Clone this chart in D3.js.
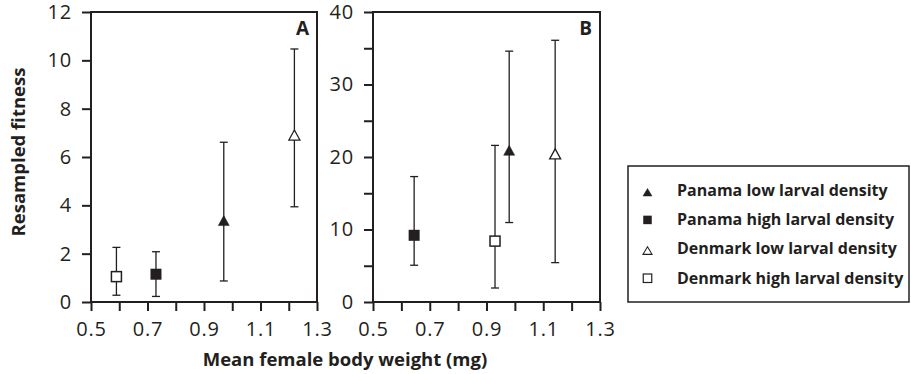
<!DOCTYPE html>
<html>
<head>
<meta charset="utf-8">
<script src="https://cdn.jsdelivr.net/npm/d3@7"></script>
<style>
  body { margin: 0; background: #fff; }
  svg { display: block; }
  text { font-family: "Open Sans", "Noto Sans", sans-serif; fill: #231f20; }
</style>
</head>
<body>
<svg id="chart" width="911" height="374"></svg>
<script>
// Groups (order used in the legend)
const groups = ["Panama low larval density", "Panama high larval density",
                "Denmark low larval density", "Denmark high larval density"];
const shapes = ["triangle", "square", "triangle", "square"];
const filled = [true, true, false, false];

// Panel A: mean female body weight (mg) vs resampled fitness, with interval
const weightA  = [0.97, 0.73, 1.22, 0.59];
const fitnessA = [3.3, 1.15, 6.84, 1.05];
const lowerA   = [0.87, 0.23, 3.94, 0.28];
const upperA   = [6.61, 2.08, 10.47, 2.26];

// Panel B
const weightB  = [0.98, 0.645, 1.142, 0.93];
const fitnessB = [20.7, 9.2, 20.2, 8.4];
const lowerB   = [10.96, 5.07, 5.43, 1.93];
const upperB   = [34.6, 17.3, 36.1, 21.6];

// Ticks
const xTicks = [0.5, 0.6, 0.7, 0.8, 0.9, 1.0, 1.1, 1.2, 1.3];
const xLabels = [0.5, 0.7, 0.9, 1.1, 1.3];
const yTicksA = [0, 2, 4, 6, 8, 10, 12];
const yLabelsA = [0, 2, 4, 6, 8, 10, 12];
const yTicksB = [0, 5, 10, 15, 20, 25, 30, 35, 40];
const yLabelsB = [0, 10, 20, 30, 40];

const ink = "#231f20";
const svg = d3.select("#chart");

function drawPanel(opts) {
  const { left, right, top, bottom, yMax, yTicks, yLabels, label,
          weight, fitness, lower, upper } = opts;
  const x = d3.scaleLinear().domain([0.5, 1.3]).range([left, right]);
  const y = d3.scaleLinear().domain([0, yMax]).range([bottom, top]);
  const g = svg.append("g");

  const fmtX = d => xLabels.some(v => Math.abs(v - d) < 1e-9) ? d3.format(".1f")(d) : "";
  const xAxis = g.append("g")
    .attr("transform", `translate(0,${bottom})`)
    .call(d3.axisBottom(x).tickValues(xTicks).tickFormat(fmtX).tickSize(9).tickPadding(11));
  const fmtY = d => yLabels.includes(d) ? String(d) : "";
  const yAxis = g.append("g")
    .attr("transform", `translate(${left},0)`)
    .call(d3.axisLeft(y).tickValues(yTicks).tickFormat(fmtY).tickSize(9).tickPadding(10));

  [xAxis, yAxis].forEach(a => {
    a.select(".domain").remove();
    a.selectAll(".tick line").attr("stroke", ink).attr("stroke-width", 2);
    a.selectAll(".tick text").style("font-size", "20px").style("letter-spacing", "0.8px").attr("fill", ink);
  });

  // Plot frame
  g.append("rect")
    .attr("x", left).attr("y", top)
    .attr("width", right - left).attr("height", bottom - top)
    .attr("fill", "none").attr("stroke", ink).attr("stroke-width", 2);

  g.append("text")
    .attr("x", right - 8).attr("y", top + 23)
    .attr("text-anchor", "end")
    .style("font-size", "19px").style("font-weight", "bold")
    .text(label);

  const idx = d3.range(groups.length);
  const cap = 4;
  // Error bars
  const eb = g.selectAll(".err").data(idx).join("g")
    .attr("stroke", ink).attr("stroke-width", 1.3);
  eb.append("line")
    .attr("x1", i => x(weight[i])).attr("x2", i => x(weight[i]))
    .attr("y1", i => y(lower[i])).attr("y2", i => y(upper[i]));
  eb.append("line")
    .attr("x1", i => x(weight[i]) - cap).attr("x2", i => x(weight[i]) + cap)
    .attr("y1", i => y(upper[i])).attr("y2", i => y(upper[i]));
  eb.append("line")
    .attr("x1", i => x(weight[i]) - cap).attr("x2", i => x(weight[i]) + cap)
    .attr("y1", i => y(lower[i])).attr("y2", i => y(lower[i]));

  // Markers
  idx.forEach(i => drawMarker(g, x(weight[i]), y(fitness[i]), i));
}

function drawMarker(g, cx, cy, i) {
  const fill = filled[i] ? ink : "#fff";
  if (shapes[i] === "square") {
    const s = filled[i] ? 11 : 10;
    g.append("rect")
      .attr("x", cx - s / 2).attr("y", cy - s / 2)
      .attr("width", s).attr("height", s)
      .attr("fill", fill)
      .attr("stroke", ink).attr("stroke-width", filled[i] ? 0 : 1.5);
  } else {
    const w = 11, h = 10;
    g.append("path")
      .attr("d", `M${cx},${cy - h * 2 / 3}L${cx + w / 2},${cy + h / 3}L${cx - w / 2},${cy + h / 3}Z`)
      .attr("fill", fill)
      .attr("stroke", ink).attr("stroke-width", filled[i] ? 0.5 : 1.3)
      .attr("stroke-linejoin", "miter");
  }
}

drawPanel({ left: 91, right: 317, top: 12, bottom: 302, yMax: 12,
            yTicks: yTicksA, yLabels: yLabelsA, label: "A",
            weight: weightA, fitness: fitnessA, lower: lowerA, upper: upperA });
drawPanel({ left: 373, right: 600, top: 12, bottom: 302, yMax: 40,
            yTicks: yTicksB, yLabels: yLabelsB, label: "B",
            weight: weightB, fitness: fitnessB, lower: lowerB, upper: upperB });

// Axis titles
svg.append("text")
  .attr("transform", "translate(25,152) rotate(-90)")
  .attr("text-anchor", "middle")
  .style("font-size", "18.5px").style("font-weight", "bold")
  .text("Resampled fitness");
svg.append("text")
  .attr("x", 345).attr("y", 366)
  .attr("text-anchor", "middle")
  .style("font-size", "18.5px").style("font-weight", "bold")
  .text("Mean female body weight (mg)");

// Legend
const lg = svg.append("g");
lg.append("rect")
  .attr("x", 628).attr("y", 166).attr("width", 281).attr("height", 136)
  .attr("fill", "none").attr("stroke", ink).attr("stroke-width", 1.5);
const rowY = d3.scalePoint().domain(d3.range(groups.length)).range([196, 283.5]);
groups.forEach((name, i) => {
  const base = rowY(i);
  const cx = 647.5;
  if (shapes[i] === "square") {
    const s = 8.5;
    lg.append("rect")
      .attr("x", cx - s / 2).attr("y", base - s - 1)
      .attr("width", s).attr("height", s)
      .attr("fill", filled[i] ? ink : "#fff")
      .attr("stroke", ink).attr("stroke-width", filled[i] ? 0 : 1.2);
  } else {
    const w = 9, h = 7.5, by = base;
    lg.append("path")
      .attr("d", `M${cx},${by - h}L${cx + w / 2},${by}L${cx - w / 2},${by}Z`)
      .attr("fill", filled[i] ? ink : "#fff")
      .attr("stroke", ink).attr("stroke-width", filled[i] ? 0.5 : 1.1);
  }
  lg.append("text")
    .attr("x", 677).attr("y", base)
    .style("font-size", "16px").style("font-weight", "bold")
    .text(name);
});
</script>
</body>
</html>
